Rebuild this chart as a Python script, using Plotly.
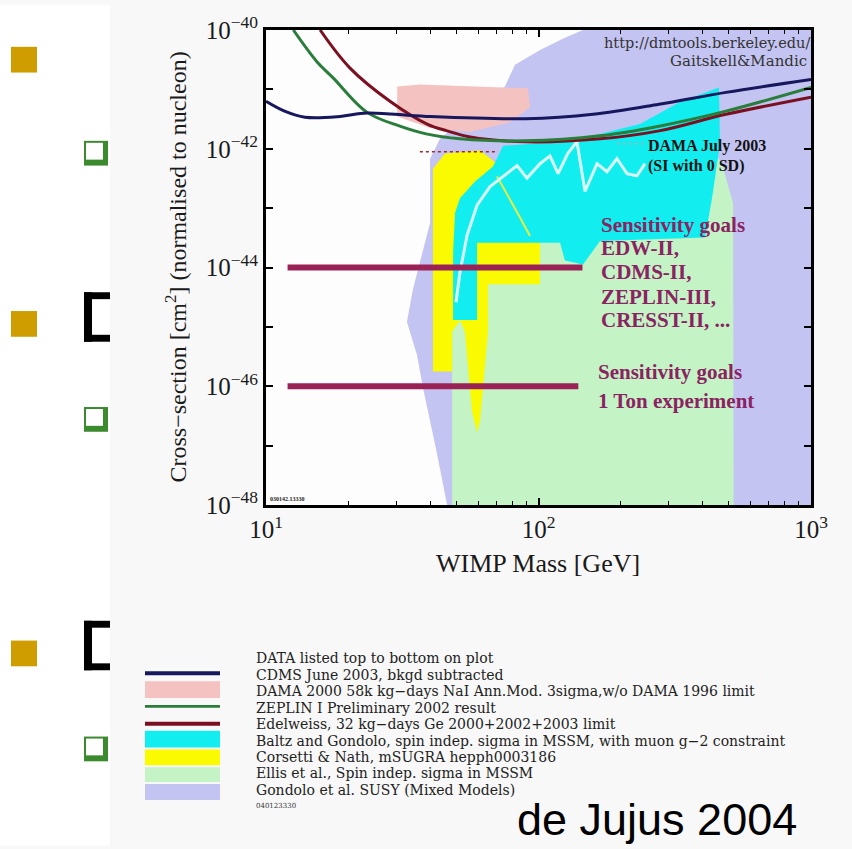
import plotly.graph_objects as go

# ---------------- data (WIMP mass in GeV, cross-section in cm^2) ----------------
cdms_mass = [10, 11.7, 13.9, 18.7, 23.5, 38.7, 89.9, 158.5, 276.8, 487.5, 1000]
cdms_sigma = [6.3e-42, 4.3e-42, 3.4e-42, 3.5e-42, 4.0e-42, 3.5e-42, 3.2e-42, 3.8e-42, 5.6e-42, 8.9e-42, 1.47e-41]

zeplin_mass = [12.6, 15.4, 17.6, 23.5, 31.0, 38.7, 51.5, 89.9, 168.2, 276.8, 487.5, 1000]
zeplin_sigma = [1e-40, 2.9e-41, 1.58e-41, 4.1e-42, 2.4e-42, 1.78e-42, 1.47e-42, 1.36e-42, 1.65e-42, 2.4e-42, 4.3e-42, 1.08e-41]

edelweiss_mass = [15.8, 20.3, 28.5, 39.0, 46.2, 56.1, 89.9, 168.2, 276.8, 487.5, 1000]
edelweiss_sigma = [1e-40, 2.3e-41, 6.3e-42, 2.6e-42, 2.0e-42, 1.58e-42, 1.31e-42, 1.47e-42, 2.0e-42, 3.8e-42, 7.4e-42]

dama2000_mass = [30.3, 36.7, 91.4, 93.1, 78.5, 56.1, 40.0, 30.3]
dama2000_sigma = [1.12e-41, 1.21e-41, 1.04e-41, 5.0e-42, 2.8e-42, 1.92e-42, 2.24e-42, 3.5e-42]

gondolo_mass = [145.6, 1000, 1000, 46.2, 42.4, 37.7, 35.8, 32.9, 34.6, 40.0, 40.0, 43.5, 56.1, 75.3, 82, 101.3, 125]
gondolo_sigma = [1e-40, 1e-40, 1e-48, 1e-48, 7.4e-48, 9.3e-47, 3.4e-46, 1.21e-45, 4.3e-45, 5.6e-44, 6.8e-43, 1.47e-42, 3.8e-42, 1.12e-41, 2.6e-41, 4.6e-41, 7.4e-41]

ellis_mass = [48.2, 48.2, 49.4, 56.1, 85.5, 391.5, 471, 517.5, 520]
ellis_sigma = [1e-48, 2.6e-45, 2.6e-44, 3.8e-43, 8.3e-43, 1.78e-42, 5.6e-43, 1.21e-43, 1e-48]

corsetti_mass = [41.0, 45.4, 61.0, 70.4, 73.4, 93.1, 101.3, 101.3, 65.3, 65.3, 61.0, 59.5, 57.0, 53.7, 51.5, 48.2, 48.2, 41.0]
corsetti_sigma = [4.6e-43, 8.3e-43, 9.3e-43, 5.6e-43, 2.8e-43, 3.2e-44, 2.6e-44, 5.2e-45, 5.2e-45, 8.3e-46, 2.6e-47, 1.65e-47, 3.8e-47, 8.3e-46, 1.31e-45, 8.3e-46, 1.78e-46, 1.78e-46]

corsetti_edge_mass = [70.4, 80.0, 93.1]
corsetti_edge_sigma = [3.4e-43, 1.21e-43, 3.4e-44]

baltz_mass = [74.1, 120, 168.2, 235.6, 330.3, 459.5, 463.6, 433.2, 408.5, 168.2, 145.6, 125, 120, 59.5, 59.5, 48.6, 48.6, 49.4, 51.5, 58.5, 68.1]
baltz_sigma = [1.12e-42, 1.31e-42, 1.78e-42, 2.6e-42, 6.1e-42, 1.08e-41, 1.21e-42, 1.47e-43, 3.2e-44, 2.8e-44, 1.12e-44, 1.31e-44, 2.6e-44, 2.6e-44, 1.31e-45, 1.31e-45, 1.78e-44, 8.3e-44, 1.47e-43, 2.8e-43, 5.0e-43]

dama2003_mass = [49.8, 51.5, 54.7, 59.5, 66.4, 76.6, 83.4, 90.7, 101.3, 110.2, 118, 128, 138.4, 148.1, 164, 178.4, 194, 211.3, 229.7, 246]
dama2003_sigma = [2.6e-45, 8.3e-45, 3.5e-44, 1.12e-43, 2.3e-43, 3.8e-43, 5.2e-43, 3.2e-43, 5.6e-43, 7.6e-43, 3.8e-43, 8.3e-43, 1.31e-42, 1.92e-43, 5.6e-43, 4.1e-43, 6.8e-43, 3.8e-43, 3.5e-43, 5.6e-43]

dama_leader_mass = [194, 246]
dama_leader_sigma = [1.21e-42, 1.21e-42]

dotted_mass = [36.7, 71.0]
dotted_sigma = [8.9e-43, 8.9e-43]

goal_ii_mass = [12, 145]
goal_ii_sigma = [1e-44, 1e-44]
goal_ton_mass = [12, 140]
goal_ton_sigma = [1e-46, 1e-46]

x_tickvals = [10, 100, 1000]
x_ticktext = ["10<sup>1</sup>", "10<sup>2</sup>", "10<sup>3</sup>"]
x_minor = [20, 30, 40, 50, 60, 70, 80, 90, 200, 300, 400, 500, 600, 700, 800, 900]
y_tickvals = [1e-48, 1e-46, 1e-44, 1e-42, 1e-40]
y_ticktext = ["10<sup>−48</sup>", "10<sup>−46</sup>", "10<sup>−44</sup>", "10<sup>−42</sup>", "10<sup>−40</sup>"]
y_minor = [1e-47, 1e-45, 1e-43, 1e-41]

legend_lines = [
    "DATA listed top to bottom on plot",
    "CDMS June 2003, bkgd subtracted",
    "DAMA 2000 58k kg−days NaI Ann.Mod. 3sigma,w/o DAMA 1996 limit",
    "ZEPLIN I Preliminary 2002 result",
    "Edelweiss, 32 kg−days Ge 2000+2002+2003 limit",
    "Baltz and Gondolo, spin indep. sigma in MSSM, with muon g−2 constraint",
    "Corsetti & Nath, mSUGRA hepph0003186",
    "Ellis et al., Spin indep. sigma in MSSM",
    "Gondolo et al. SUSY (Mixed Models)",
]

# ---------------- colours ----------------
C_NAVY = "#17175e"
C_PINK = "#f5c2c2"
C_GREEN = "#2a7d3a"
C_RED = "#7a1020"
C_CYAN = "#12eef0"
C_YELLOW = "#fafa00"
C_LTGREEN = "#c4f4c6"
C_LAV = "#c4c4f2"
C_GOAL = "#9b2257"
C_GOALTXT = "#8b2262"

# ---------------- geometry helpers (pixel -> paper) ----------------
W, H = 852, 849
L, T, PW, PH = 266, 25, 545, 480


def px(x):
    return (x - L) / PW


def py(y):
    return (T + PH - y) / PH


fig = go.Figure()


def region(m, s, color):
    fig.add_trace(go.Scatter(x=m, y=s, mode="lines", fill="toself", fillcolor=color,
                             line=dict(width=0, color=color), hoverinfo="skip", showlegend=False))


def curve(m, s, color, width, dash="solid", shape="spline"):
    fig.add_trace(go.Scatter(x=m, y=s, mode="lines",
                             line=dict(color=color, width=width, dash=dash, shape=shape),
                             hoverinfo="skip", showlegend=False))


region(gondolo_mass, gondolo_sigma, C_LAV)
region(dama2000_mass, dama2000_sigma, C_PINK)
region(ellis_mass, ellis_sigma, C_LTGREEN)
region(corsetti_mass, corsetti_sigma, C_YELLOW)
region(baltz_mass, baltz_sigma, C_CYAN)
curve(corsetti_edge_mass, corsetti_edge_sigma, "#e8f040", 2)
curve(dama2003_mass, dama2003_sigma, "#d8fff4", 3, shape="linear")
curve(dama_leader_mass, dama_leader_sigma, "#9fb8b8", 1.5, dash="dot", shape="linear")
curve(dotted_mass, dotted_sigma, "#a02a2a", 1.5, dash="dot", shape="linear")
curve(goal_ii_mass, goal_ii_sigma, C_GOAL, 6, shape="linear")
curve(goal_ton_mass, goal_ton_sigma, C_GOAL, 6, shape="linear")
curve(edelweiss_mass, edelweiss_sigma, C_RED, 3)
curve(zeplin_mass, zeplin_sigma, C_GREEN, 3)
curve(cdms_mass, cdms_sigma, C_NAVY, 3)

serif = "Liberation Serif"
tickfont = dict(family=serif, size=25, color="#1a1a1a")

fig.update_xaxes(type="log", range=[1, 3], showline=True, linewidth=3, linecolor="black",
                 mirror="allticks", ticks="inside", ticklen=7, tickwidth=1.5, tickcolor="black",
                 tickvals=x_tickvals, ticktext=x_ticktext, tickfont=tickfont,
                 minor=dict(tickvals=x_minor, ticks="inside", ticklen=4, tickwidth=1, tickcolor="black"),
                 showgrid=False, zeroline=False)
fig.update_yaxes(type="log", range=[-48, -40], showline=True, linewidth=3, linecolor="black",
                 mirror="allticks", ticks="inside", ticklen=7, tickwidth=1.5, tickcolor="black",
                 tickvals=y_tickvals, ticktext=y_ticktext, tickfont=tickfont,
                 minor=dict(tickvals=y_minor, ticks="inside", ticklen=7, tickwidth=1.5, tickcolor="black"),
                 showgrid=False, zeroline=False)

ann = []


def text(t, x, y, size, family=serif, color="#1a1a1a", xanchor="left", yanchor="middle", angle=0):
    ann.append(dict(text=t, x=px(x), y=py(y), xref="paper", yref="paper", showarrow=False,
                    xanchor=xanchor, yanchor=yanchor, textangle=angle, align=xanchor if xanchor != "center" else "center",
                    font=dict(family=family, size=size, color=color)))


# axis titles
text("Cross−section [cm<sup>2</sup>] (normalised to nucleon)", 175, 265, 24, xanchor="center", angle=-90)
text("WIMP Mass [GeV]", 538, 564, 26, xanchor="center")

# in-plot labels
text("http://dmtools.berkeley.edu/", 812, 38, 14.5, family="DejaVu Serif", color="#333333", xanchor="right")
text("Gaitskell&Mandic", 809, 56, 15, family="DejaVu Serif", color="#333333", xanchor="right")
text("<b>DAMA July 2003</b>", 646, 142, 16, color="#111111")
text("<b>(SI with 0 SD)</b>", 646, 162, 16, color="#111111")
goal_labels = [("Sensitivity goals", 222), ("EDW-II,", 245), ("CDMS-II,", 270),
               ("ZEPLIN-III,", 295), ("CRESST-II, ...", 318)]
for t, yy in goal_labels:
    text("<b>" + t + "</b>", 599, yy, 21, color=C_GOALTXT)
text("<b>Sensitivity goals</b>", 596, 371, 21, color=C_GOALTXT)
text("<b>1 Ton experiment</b>", 596, 400, 21, color=C_GOALTXT)
text("<b>030142.13330</b>", 268, 499, 6, color="#222222")

# legend block text
for i, t in enumerate(legend_lines):
    text(t, 254, 660 + 16.6 * i, 14, family="DejaVu Serif", color="#222222")
text("040123330", 254, 809, 7, family="DejaVu Serif", color="#333333")

# slide footer text
text("de Jujus 2004", 657, 823, 45, family="Liberation Sans", color="#000000", xanchor="center")

shapes = []


def rect(x0, y0, x1, y1, color, layer="above"):
    shapes.append(dict(type="rect", xref="paper", yref="paper", x0=px(x0), x1=px(x1),
                       y0=py(y1), y1=py(y0), fillcolor=color, line=dict(width=0), layer=layer))


# white slide strip on the left (chart picture background is light grey)
rect(0, 0, 110, H, "#ffffff", layer="below")

# gold bullets
for y0 in (42, 309, 642):
    rect(11, y0, 37, y0 + 26, "#cf9d00")
# green checkbox bullets
for y0 in (137, 406, 739):
    rect(84, y0, 108, y0 + 25, "#3b8a2e")
    rect(86, y0 + 2, 103, y0 + 19, "#ffffff")
# clipped letters at slide edge
for y0 in (290, 622):
    rect(84, y0, 92, y0 + 50, "#000000")
    rect(84, y0, 110, y0 + 7, "#000000")
    rect(84, y0 + 43, 110, y0 + 50, "#000000")

# legend swatches
rect(145, 673, 220, 677, C_NAVY)
rect(145, 683, 220, 700, C_PINK)
rect(145, 707, 220, 710, C_GREEN)
rect(145, 724, 220, 728, C_RED)
rect(145, 733, 220, 750, C_CYAN)
rect(145, 752, 220, 768, C_YELLOW)
rect(145, 770, 220, 785, C_LTGREEN)
rect(145, 787, 220, 803, C_LAV)

fig.update_layout(width=W, height=H, autosize=False,
                  margin=dict(l=L, r=W - L - PW, t=T, b=H - T - PH, pad=0),
                  paper_bgcolor="#f8f8f8", plot_bgcolor="#fdfdfd",
                  annotations=ann, shapes=shapes, showlegend=False)

fig.write_html("out.html")
